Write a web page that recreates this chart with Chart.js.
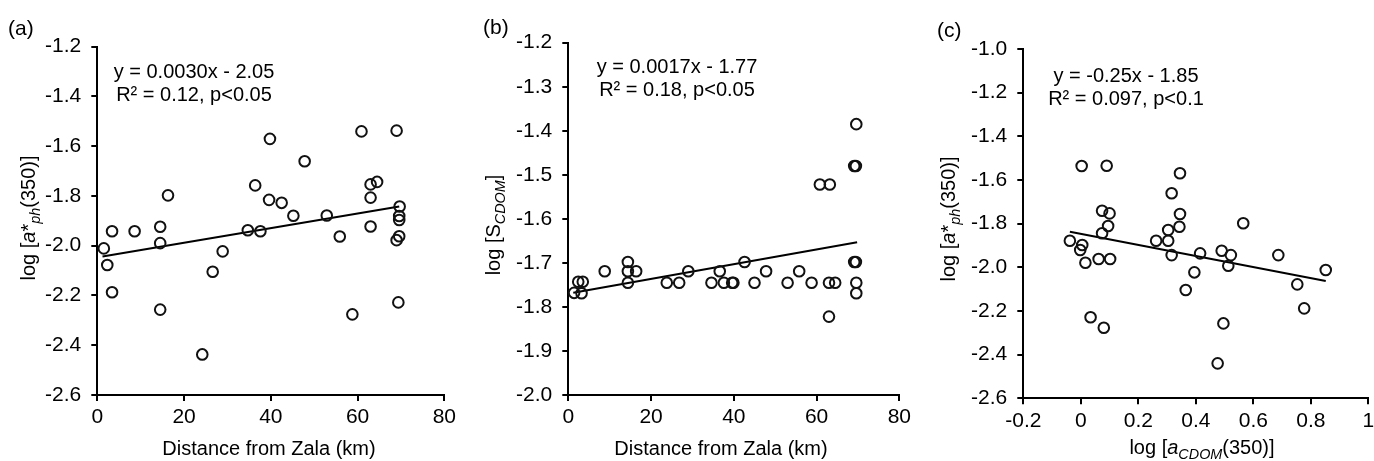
<!DOCTYPE html>
<html><head><meta charset="utf-8">
<script src="https://cdn.jsdelivr.net/npm/chart.js@4/dist/chart.umd.min.js"></script>
<style>
html,body{margin:0;padding:0;background:#fff;overflow:hidden;width:1374px;height:461px;}
body{position:relative;font-family:"Liberation Sans",Arial,sans-serif;color:#000;}
canvas{position:absolute;top:0;}
.t{position:absolute;white-space:nowrap;line-height:20px;font-size:20px;transform:translate(-50%,-50%);}
.r{transform:translate(-50%,-50%) rotate(-90deg);}
.eq{position:absolute;white-space:nowrap;text-align:center;font-size:20px;line-height:23.3px;transform:translate(-50%,-50%);}
.lab{position:absolute;font-size:21px;line-height:21px;transform:translateY(-50%);}
sub{font-size:0.72em;vertical-align:-0.32em;line-height:0;}
</style>
</head><body>
<canvas id="ca" width="460" height="461" style="left:0px"></canvas>
<canvas id="cb" width="455" height="461" style="left:460px"></canvas>
<canvas id="cc" width="470" height="461" style="left:920px"></canvas>

<div class="lab" style="left:8px;top:27px">(a)</div>
<div class="lab" style="left:483px;top:26px">(b)</div>
<div class="lab" style="left:937px;top:29px">(c)</div>

<div class="eq" style="left:194px;top:83px">y = 0.0030x - 2.05<br>R² = 0.12, p&lt;0.05</div>
<div class="eq" style="left:677px;top:78px">y = 0.0017x - 1.77<br>R² = 0.18, p&lt;0.05</div>
<div class="eq" style="left:1126px;top:87px">y = -0.25x - 1.85<br>R² = 0.097, p&lt;0.1</div>

<div class="t r" style="left:28px;top:218px">log [<i>a</i>*<sub><i>ph</i></sub>(350)]</div>
<div class="t r" style="left:493px;top:225px">log [S<sub><i>CDOM</i></sub>]</div>
<div class="t r" style="left:948px;top:219px">log [<i>a</i>*<sub><i>ph</i></sub>(350)]</div>

<div class="t" style="left:269px;top:448px">Distance from Zala (km)</div>
<div class="t" style="left:721px;top:448px">Distance from Zala (km)</div>
<div class="t" style="left:1202px;top:447px">log [<i>a</i><sub><i>CDOM</i></sub>(350)]</div>

<script>
// ---- Panel (a): distance vs log a*ph(350)
const distA = [1.5, 2.3, 3.4, 3.4, 8.6, 14.5, 14.5, 14.5, 16.3, 24.2, 26.6, 28.9, 34.7, 36.4, 37.6, 39.8, 39.6, 42.5, 45.2, 47.8, 52.9, 55.9, 58.8, 60.9, 63.0, 64.5, 63.0, 63.0, 69.0, 69.7, 69.6, 69.6, 69.6, 69.0, 69.4];
const aphA  = [-2.011, -2.078, -1.942, -2.187, -1.942, -1.924, -1.990, -2.257, -1.798, -2.437, -2.105, -2.023, -1.938, -1.758, -1.942, -1.571, -1.816, -1.828, -1.880, -1.661, -1.879, -1.963, -2.276, -1.541, -1.754, -1.744, -1.807, -1.923, -1.538, -1.843, -1.881, -1.897, -1.962, -1.978, -2.228];
const trendAX = [1.2, 69.6];
const trendAY = [-2.044, -1.843];
const xTicksA = [0, 20, 40, 60, 80];
const xLabelsA = ['0', '20', '40', '60', '80'];
const yTicksA = [-2.6, -2.4, -2.2, -2.0, -1.8, -1.6, -1.4, -1.2];
const yLabelsA = ['-2.6', '-2.4', '-2.2', '-2.0', '-1.8', '-1.6', '-1.4', '-1.2'];

// ---- Panel (b): distance vs log S_CDOM
const distB = [1.4, 3.2, 2.4, 3.5, 8.8, 14.4, 14.4, 14.4, 16.4, 23.8, 26.8, 29.0, 34.6, 36.6, 37.6, 39.6, 39.9, 42.6, 45.0, 47.8, 53.0, 55.8, 58.8, 63.0, 64.5, 63.0, 60.8, 63.2, 69.6, 69.1, 69.5, 69.1, 69.5, 69.6, 69.6];
const sB    = [-1.768, -1.769, -1.743, -1.743, -1.719, -1.698, -1.719, -1.745, -1.719, -1.745, -1.745, -1.719, -1.745, -1.719, -1.745, -1.745, -1.745, -1.698, -1.745, -1.719, -1.745, -1.719, -1.745, -1.745, -1.745, -1.822, -1.522, -1.522, -1.385, -1.480, -1.480, -1.698, -1.698, -1.745, -1.769];
const trendBX = [1.2, 69.8];
const trendBY = [-1.768, -1.653];
const xTicksB = [0, 20, 40, 60, 80];
const xLabelsB = ['0', '20', '40', '60', '80'];
const yTicksB = [-2.0, -1.9, -1.8, -1.7, -1.6, -1.5, -1.4, -1.3, -1.2];
const yLabelsB = ['-2.0', '-1.9', '-1.8', '-1.7', '-1.6', '-1.5', '-1.4', '-1.3', '-1.2'];

// ---- Panel (c): log a_CDOM(350) vs log a*ph(350)
const acdomC = [-0.038, 0.003, 0.005, -0.002, 0.016, 0.034, 0.062, 0.074, 0.074, 0.080, 0.090, 0.100, 0.095, 0.102, 0.262, 0.304, 0.304, 0.316, 0.316, 0.345, 0.345, 0.343, 0.365, 0.395, 0.415, 0.476, 0.490, 0.496, 0.522, 0.513, 0.565, 0.687, 0.753, 0.777, 0.852];
const aphC   = [-1.878, -1.536, -1.898, -1.921, -1.979, -2.229, -1.962, -1.741, -1.844, -2.277, -1.535, -1.753, -1.811, -1.962, -1.878, -1.829, -1.878, -1.661, -1.944, -1.569, -1.756, -1.814, -2.104, -2.023, -1.936, -2.440, -1.924, -2.257, -1.944, -1.993, -1.798, -1.944, -2.078, -2.188, -2.012];
const trendCX = [-0.038, 0.852];
const trendCY = [-1.837, -2.063];
const xTicksC = [-0.2, 0, 0.2, 0.4, 0.6, 0.8, 1.0];
const xLabelsC = ['-0.2', '0', '0.2', '0.4', '0.6', '0.8', '1'];
const yTicksC = [-2.6, -2.4, -2.2, -2.0, -1.8, -1.6, -1.4, -1.2, -1.0];
const yLabelsC = ['-2.6', '-2.4', '-2.2', '-2.0', '-1.8', '-1.6', '-1.4', '-1.2', '-1.0'];

const FONT = {family: '"Liberation Sans", Arial, sans-serif', size: 21};

function pts(xs, ys) { return xs.map((x, i) => ({x: x, y: ys[i]})); }

function axis(ticks, labels, fitKey, fitVal, pad) {
  return {
    type: 'linear',
    min: ticks[0], max: ticks[ticks.length - 1],
    afterBuildTicks: s => { s.ticks = ticks.map(v => ({value: v})); },
    afterFit: s => { s[fitKey] = fitVal; },
    ticks: {callback: (v, i) => labels[i], font: FONT, color: '#000', padding: pad, autoSkip: false, maxRotation: 0, minRotation: 0},
    grid: {display: true, drawOnChartArea: false, drawTicks: true, tickLength: 6, tickWidth: 2, tickColor: '#000', color: '#000', lineWidth: 2},
    border: {display: true, color: '#000', width: 2}
  };
}

function makeChart(id, xs, ys, tx, ty, xT, xL, yT, yL, yW, xH, padTop, padRight) {
  return new Chart(document.getElementById(id), {
    type: 'scatter',
    data: {datasets: [
      {data: pts(xs, ys), pointStyle: 'circle', pointRadius: 5.3, pointHoverRadius: 5.3, borderWidth: 2,
       borderColor: '#111', backgroundColor: 'rgba(0,0,0,0)', clip: false},
      {data: pts(tx, ty), showLine: true, borderColor: '#000', borderWidth: 2, pointRadius: 0, fill: false, tension: 0, clip: false}
    ]},
    options: {
      responsive: false, animation: false, events: [],
      layout: {padding: {top: padTop, right: padRight, left: 0, bottom: 0}},
      plugins: {legend: {display: false}, tooltip: {enabled: false}, title: {display: false}},
      scales: {
        x: axis(xT, xL, 'height', xH, 4),
        y: axis(yT, yL, 'width', yW, 10)
      }
    }
  });
}

makeChart('ca', distA, aphA, trendAX, trendAY, xTicksA, xLabelsA, yTicksA, yLabelsA, 97.3, 66, 46.5, 12.5);
makeChart('cb', distB, sB, trendBX, trendBY, xTicksB, xLabelsB, yTicksB, yLabelsB, 108.3, 66, 42.7, 13.3);
makeChart('cc', acdomC, aphC, trendCX, trendCY, xTicksC, xLabelsC, yTicksC, yLabelsC, 103.3, 62.7, 49, 21.7);
</script>
</body></html>
